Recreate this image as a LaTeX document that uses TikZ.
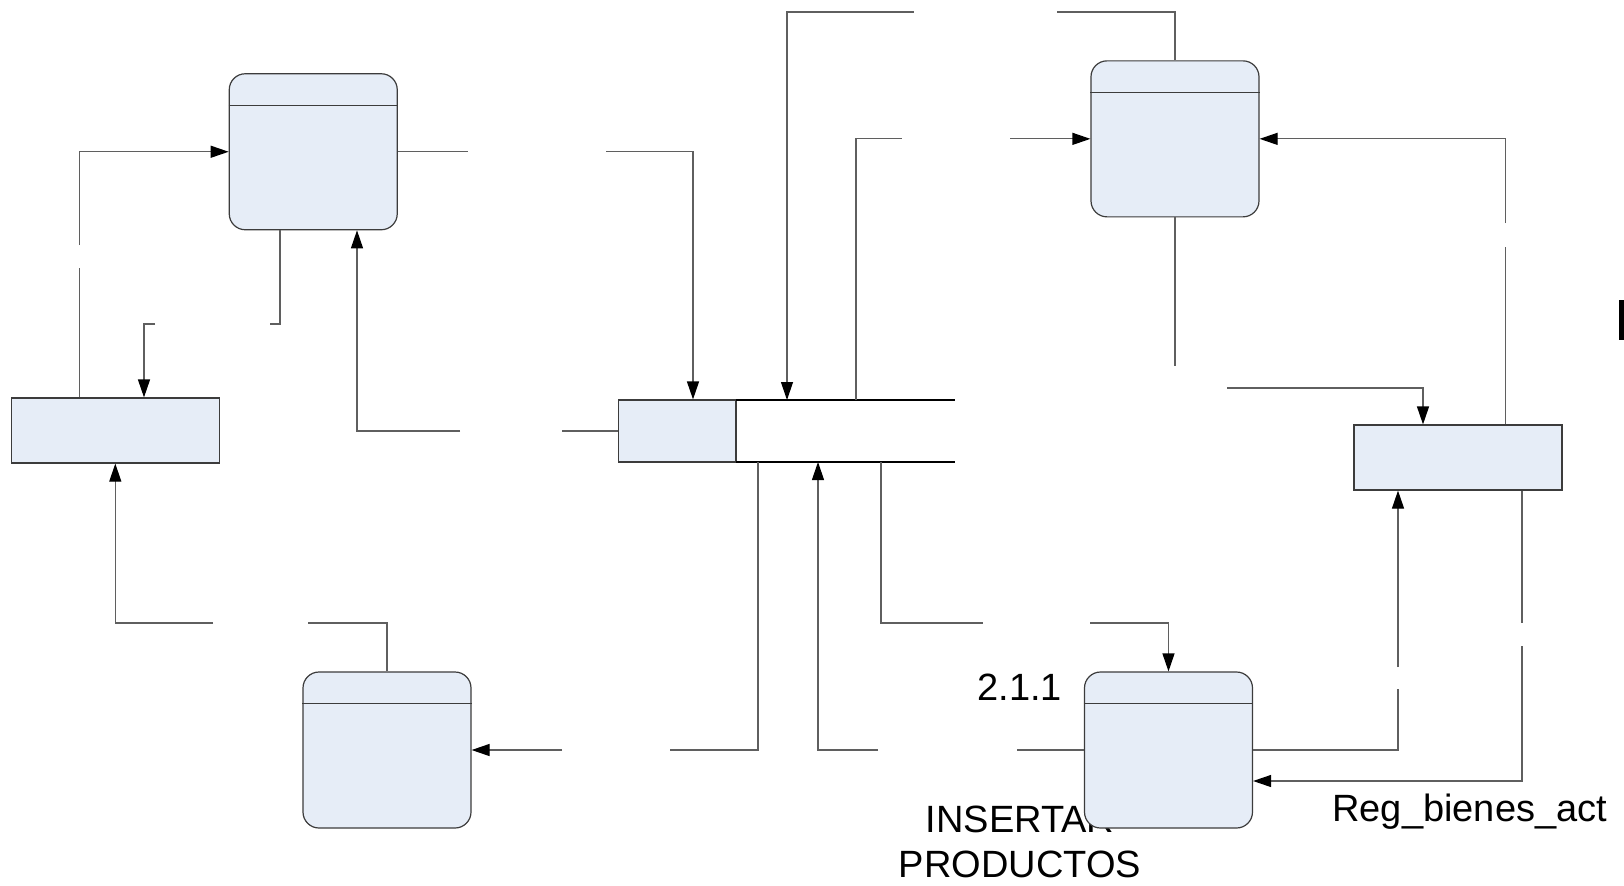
\documentclass[tikz,border=0pt]{standalone}
\usepackage{fontspec}
\setmainfont{Liberation Sans}
\usetikzlibrary{arrows.meta}
\definecolor{boxfill}{RGB}{230,237,247}
\definecolor{boxline}{RGB}{60,60,60}
\definecolor{flowline}{RGB}{95,95,95}

\begin{document}
\begin{tikzpicture}[x=0.5pt,y=-0.5pt,
    >={Triangle[length=9pt,width=6pt,color=black]},
    proc/.style={draw=boxline,fill=boxfill,rounded corners=8pt,minimum width=84pt,minimum height=78pt,inner sep=0pt,line width=0.6pt},
    ent/.style={draw=boxline,fill=boxfill,minimum width=104pt,minimum height=32.5pt,inner sep=0pt,line width=0.6pt},
    flow/.style={draw=flowline,line width=0.6pt},
    lbl/.style={inner sep=0pt,font=\fontsize{19}{22.5}\selectfont}]
  \useasboundingbox (0,0) rectangle (1624,885);

  \node[lbl,anchor=north,align=center] (insLbl) at (1020,806) {INSERTAR\\PRODUCTOS}; % under the box
  \node[proc] (procA) at (313.25,151.75) {};
  \node[proc] (procB) at (1175,138.85) {};
  \node[proc] (procC) at (387,750) {};
  \node[proc] (insertar) at (1168.5,750) {};
  \foreach \p in {procA,procB,procC,insertar}
    \draw[boxline,line width=0.6pt] ([yshift=-16pt]\p.north west) -- ([yshift=-16pt]\p.north east); % header line
  \node[ent] (entA) at (115.3,430.5) {};
  \node[ent] (entB) at (1458,457.5) {};
  \node[draw=boxline,fill=boxfill,minimum width=58.75pt,minimum height=31pt,inner sep=0pt,line width=0.6pt] (store) at (677.25,431) {};
  \node[minimum width=109.5pt,minimum height=31pt,inner sep=0pt,outer sep=0pt] (storeOpen) at (845.5,431) {};
  \draw[black,line width=0.6pt] (storeOpen.north west) -- (storeOpen.north east)
    (storeOpen.south west) -- (storeOpen.south east); % open side of the store

  \node[lbl,anchor=base west] (num) at (977,700) {2.1.1};
  \node[lbl,anchor=base west] (regLbl) at (1332,821) {Reg\_bienes\_act};
  \fill (1619,300) rectangle (1624,340); % cut letter at the edge

  % entA -> procA
  \coordinate (a1) at (79.5,268); \coordinate (a2) at (79.5,245);
  \draw[flow] (entA.north -| a1) -- (a1);
  \draw[flow,->] (a2) |- (procA.west);
  % procA -> entA
  \coordinate (b1) at (270,324); \coordinate (b2) at (155,324);
  \draw[flow] (procA.south -| 280,0) |- (b1);
  \draw[flow,->] (b2) -| (entA.north -| 144,0);
  % procA -> store
  \coordinate (c1) at (468,151.75); \coordinate (c2) at (606,151.75);
  \draw[flow] (procA.east) -- (c1);
  \draw[flow,->] (c2) -| (store.north -| 693,0);
  % store -> procA
  \coordinate (d1) at (562,431); \coordinate (d2) at (460,431);
  \draw[flow] (store.west) -- (d1);
  \draw[flow,->] (d2) -| (procA.south -| 357,0);
  % procC -> entA
  \coordinate (e1) at (308,623); \coordinate (e2) at (213,623);
  \draw[flow] (procC.north) |- (e1);
  \draw[flow,->] (e2) -| (entA.south);
  % store -> procC
  \coordinate (f1) at (670,750); \coordinate (f2) at (562,750);
  \draw[flow] (storeOpen.south -| 758,0) |- (f1);
  \draw[flow,->] (f2) -- (procC.east);
  % insertar -> store
  \coordinate (g1) at (1017,750); \coordinate (g2) at (878,750);
  \draw[flow] (insertar.west) -- (g1);
  \draw[flow,->] (g2) -| (storeOpen.south -| 818,0);
  % store -> insertar
  \coordinate (h1) at (983,623); \coordinate (h2) at (1090,623);
  \draw[flow] (storeOpen.south -| 881,0) |- (h1);
  \draw[flow,->] (h2) -| (insertar.north);
  % insertar -> entB
  \coordinate (i1) at (1398,689); \coordinate (i2) at (1398,667);
  \draw[flow] (insertar.east) -| (i1);
  \draw[flow,->] (i2) -- (entB.south -| i2);
  % entB -> insertar
  \coordinate (j1) at (1522,623); \coordinate (j2) at (1522,646);
  \draw[flow] (entB.south -| j1) -- (j1);
  \draw[flow,->] (j2) |- (insertar.east |- 0,781);
  % procB -> entB
  \coordinate (k1) at (1175,366); \coordinate (k2) at (1227,388);
  \draw[flow] (procB.south) -- (k1);
  \draw[flow,->] (k2) -| (entB.north -| 1423,0);
  % entB -> procB
  \coordinate (l1) at (1505.5,247); \coordinate (l2) at (1505.5,223);
  \draw[flow] (entB.north -| l1) -- (l1);
  \draw[flow,->] (l2) |- (procB.east);
  % store -> procB
  \coordinate (m1) at (902,138.85); \coordinate (m2) at (1010,138.85);
  \draw[flow] (storeOpen.north -| 856,0) |- (m1);
  \draw[flow,->] (m2) -- (procB.west);
  % procB -> store
  \coordinate (n1) at (1057,12); \coordinate (n2) at (913.5,12);
  \draw[flow] (procB.north) |- (n1);
  \draw[flow,->] (n2) -| (storeOpen.north -| 787,0);
\end{tikzpicture}
\end{document}
